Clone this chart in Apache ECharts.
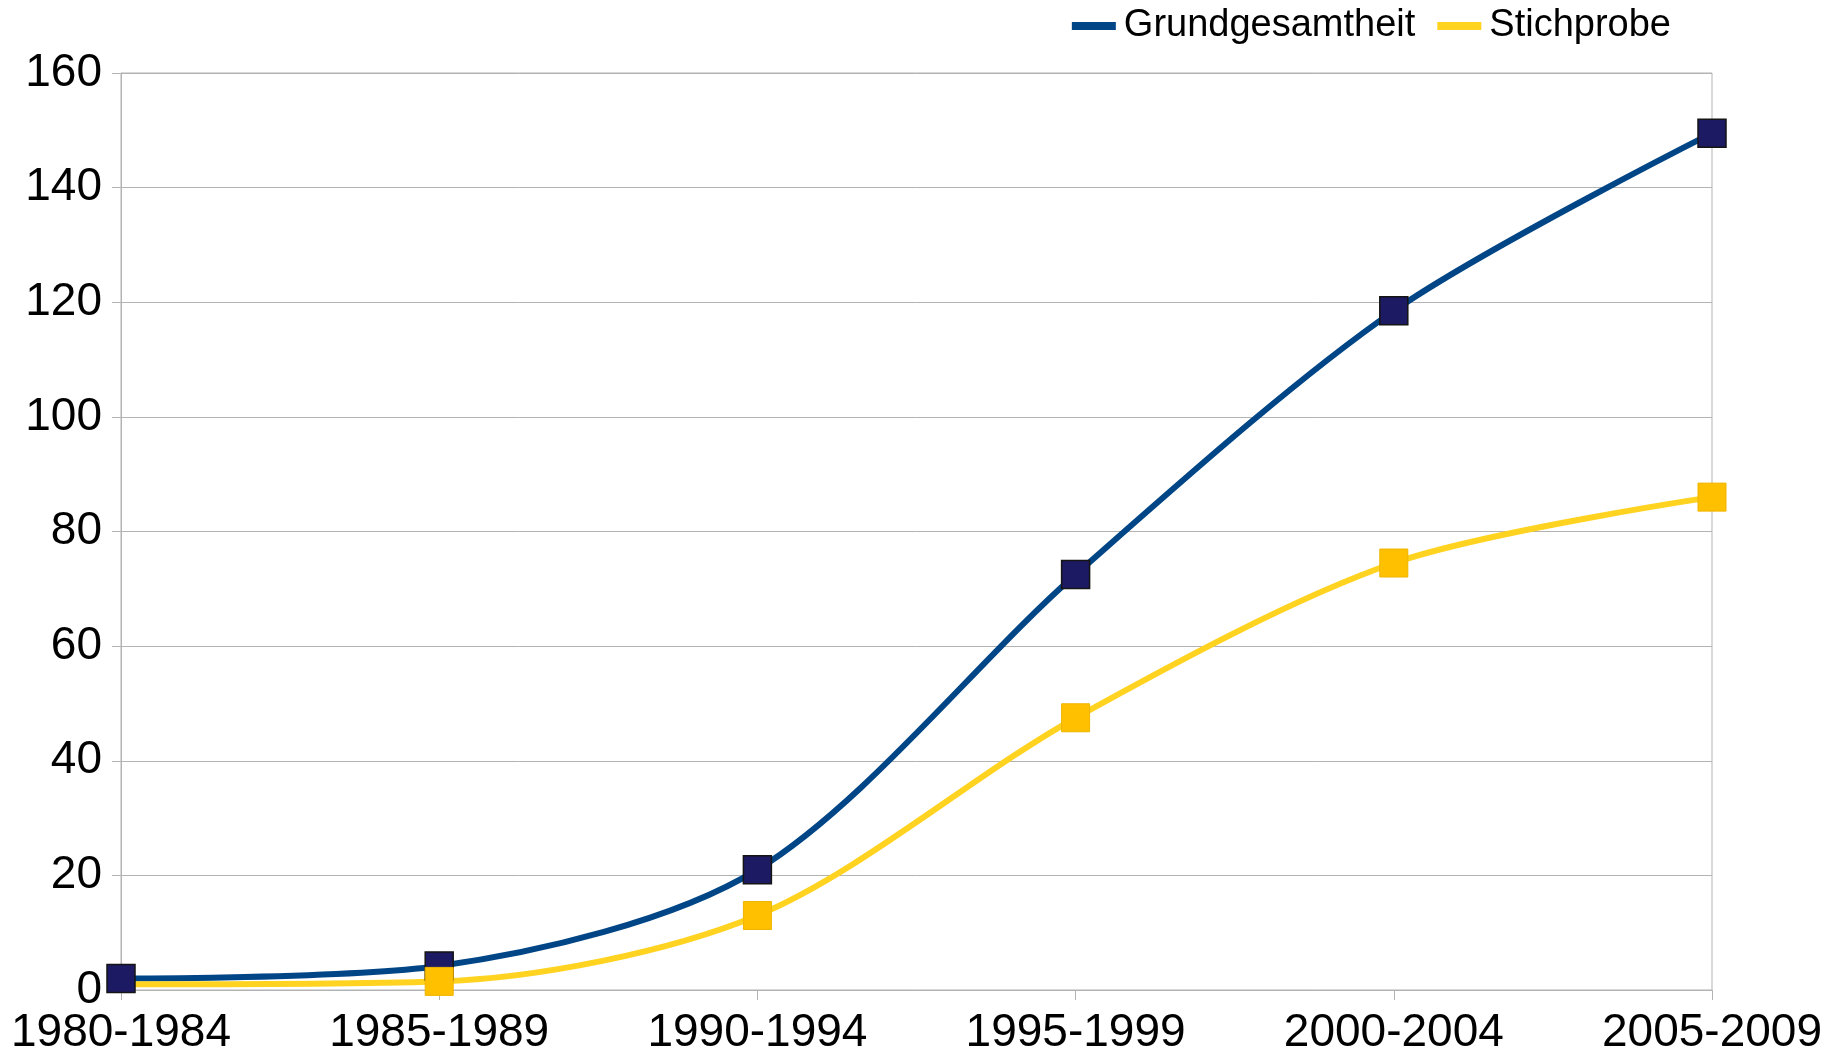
<!DOCTYPE html>
<html>
<head>
<meta charset="utf-8">
<script src="https://cdn.jsdelivr.net/npm/echarts@6/dist/echarts.min.js"></script>
<style>
html,body{margin:0;padding:0;background:#fff;}
#chart{width:1840px;height:1056px;}
</style>
</head>
<body>
<div id="chart"></div>
<script>
const categories = ['1980-1984', '1985-1989', '1990-1994', '1995-1999', '2000-2004', '2005-2009'];
const grundgesamtheit = [2, 4.2, 21, 72.5, 118.5, 149.5];
const stichprobe = [1, 1.5, 13, 47.5, 74.5, 86];
const seriesNames = ['Grundgesamtheit', 'Stichprobe'];

const FONT = '"Liberation Sans", Arial, sans-serif';
const GRID_COLOR = '#b3b3b3';

const chart = echarts.init(document.getElementById('chart'), null, {renderer: 'canvas'});
chart.setOption({
  animation: false,
  backgroundColor: '#ffffff',
  textStyle: {fontFamily: FONT, color: '#000'},
  legend: {
    top: 2,
    right: 164,
    itemWidth: 44,
    itemHeight: 8,
    itemGap: 22,
    icon: 'rect',
    textStyle: {fontFamily: FONT, fontSize: 38, color: '#000', padding: [0, 0, 0, 3]},
    data: [
      {name: seriesNames[0], itemStyle: {color: '#004586', borderWidth: 0}},
      {name: seriesNames[1], itemStyle: {color: '#ffd320', borderWidth: 0}}
    ]
  },
  grid: {
    left: 121, right: 128, top: 73, bottom: 64,
    show: true, borderColor: GRID_COLOR, borderWidth: 1,
    containLabel: false
  },
  xAxis: {
    type: 'category',
    boundaryGap: false,
    data: categories,
    axisLine: {show: true, lineStyle: {color: GRID_COLOR, width: 1}},
    axisTick: {show: true, length: 10, lineStyle: {color: GRID_COLOR}},
    axisLabel: {fontFamily: FONT, fontSize: 46, color: '#000', margin: 20, interval: 0},
    splitLine: {show: false}
  },
  yAxis: {
    type: 'value',
    min: 0, max: 160, interval: 20,
    axisLine: {show: true, lineStyle: {color: GRID_COLOR, width: 1}},
    axisTick: {show: true, length: 9, lineStyle: {color: GRID_COLOR}},
    axisLabel: {fontFamily: FONT, fontSize: 46, color: '#000', margin: 19},
    splitLine: {show: true, lineStyle: {color: GRID_COLOR, width: 1}}
  },
  series: [
    {
      name: seriesNames[0],
      type: 'line',
      data: grundgesamtheit,
      smooth: 0.3,
      clip: false,
      symbol: 'rect',
      symbolSize: 28,
      lineStyle: {color: '#004586', width: 6},
      itemStyle: {color: '#1c1a62', borderColor: '#141414', borderWidth: 1.5}
    },
    {
      name: seriesNames[1],
      type: 'line',
      data: stichprobe,
      smooth: 0.3,
      clip: false,
      symbol: function (value, params) { return params.dataIndex === 0 ? 'none' : 'rect'; },
      symbolSize: 28,
      lineStyle: {color: '#ffd320', width: 6},
      itemStyle: {color: '#ffc000', borderColor: '#f0b400', borderWidth: 1}
    }
  ]
});
</script>
</body>
</html>
